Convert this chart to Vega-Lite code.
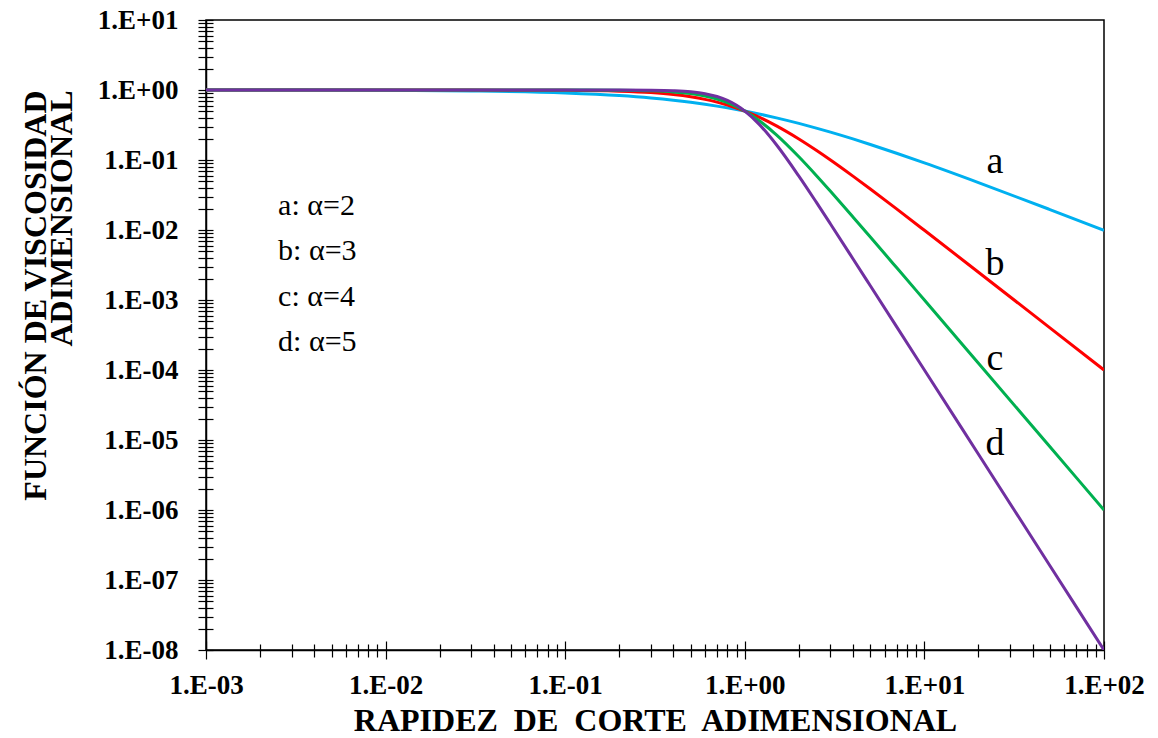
{
  "$schema": "https://vega.github.io/schema/vega-lite/v6.json",
  "width": 898,
  "height": 630,
  "autosize": "none",
  "padding": {"left": 206, "top": 20, "right": 54, "bottom": 88},
  "background": "white",
  "config": {
    "font": "Liberation Serif, serif",
    "view": {"stroke": "#000000", "strokeWidth": 1.5},
    "axis": {"grid": false, "tickColor": "#000000", "domainColor": "#000000", "labelColor": "#000000", "titleColor": "#000000", "tickWidth": 1.2, "domainWidth": 1.5}
  },
  "datasets": {
    "curves": [
      {"x": 0.001, "a": 0.999, "b": 1, "c": 1, "d": 1},
      {"x": 0.003, "a": 0.997, "b": 0.99999, "c": 1, "d": 1},
      {"x": 0.01, "a": 0.9901, "b": 0.9999, "c": 1, "d": 1},
      {"x": 0.03, "a": 0.9709, "b": 0.9991, "c": 0.99997, "d": 1},
      {"x": 0.1, "a": 0.9091, "b": 0.9901, "c": 0.999, "d": 0.9999},
      {"x": 0.2, "a": 0.8333, "b": 0.9615, "c": 0.9921, "d": 0.9984},
      {"x": 0.3, "a": 0.7692, "b": 0.9174, "c": 0.9737, "d": 0.992},
      {"x": 0.4, "a": 0.7143, "b": 0.8621, "c": 0.9398, "d": 0.975},
      {"x": 0.5, "a": 0.6667, "b": 0.8, "c": 0.8889, "d": 0.9412},
      {"x": 0.6, "a": 0.625, "b": 0.7353, "c": 0.8224, "d": 0.8853},
      {"x": 0.7, "a": 0.5882, "b": 0.6711, "c": 0.7446, "d": 0.8064},
      {"x": 0.8, "a": 0.5556, "b": 0.6098, "c": 0.6614, "d": 0.7094},
      {"x": 0.9, "a": 0.5263, "b": 0.5525, "c": 0.5784, "d": 0.6038},
      {"x": 1, "a": 0.5, "b": 0.5, "c": 0.5, "d": 0.5},
      {"x": 1.2, "a": 0.4545, "b": 0.4098, "c": 0.3666, "d": 0.3254},
      {"x": 1.5, "a": 0.4, "b": 0.3077, "c": 0.2286, "d": 0.1649},
      {"x": 2, "a": 0.3333, "b": 0.2, "c": 0.1111, "d": 0.05882},
      {"x": 2.5, "a": 0.2857, "b": 0.1379, "c": 0.06015, "d": 0.02496},
      {"x": 3, "a": 0.25, "b": 0.1, "c": 0.03571, "d": 0.0122},
      {"x": 4, "a": 0.2, "b": 0.05882, "c": 0.01538, "d": 0.003891},
      {"x": 5, "a": 0.1667, "b": 0.03846, "c": 0.007937, "d": 0.001597},
      {"x": 7, "a": 0.125, "b": 0.02, "c": 0.002907, "d": 0.0004163},
      {"x": 10, "a": 0.0909, "b": 0.009901, "c": 0.000999, "d": 0.0001},
      {"x": 20, "a": 0.0476, "b": 0.002494, "c": 0.000125, "d": 0.00000625},
      {"x": 50, "a": 0.0196, "b": 0.0003998, "c": 0.000008, "d": 0.00000016},
      {"x": 100, "a": 0.0099, "b": 0.0001, "c": 0.000001, "d": 0.00000001}
    ],
    "legendText": [
      {"x": 0.00252, "y": 0.01637, "t": "a: α=2"},
      {"x": 0.00252, "y": 0.003727, "t": "b: α=3"},
      {"x": 0.00252, "y": 0.000821, "t": "c: α=4"},
      {"x": 0.00252, "y": 0.0001868, "t": "d: α=5"}
    ],
    "curveLabels": [
      {"x": 24.7, "y": 0.06522, "t": "a"},
      {"x": 24.7, "y": 0.002276, "t": "b"},
      {"x": 24.7, "y": 0.0001, "t": "c"},
      {"x": 24.7, "y": 0.0000061, "t": "d"}
    ]
  },
  "resolve": {"axis": {"x": "independent", "y": "independent"}},
  "layer": [
    {
      "data": {"name": "curves"},
      "transform": [{"fold": ["a", "b", "c", "d"], "as": ["serie", "valor"]}],
      "mark": {"type": "line", "strokeWidth": 3, "interpolate": "monotone", "clip": true},
      "encoding": {
        "x": {
          "field": "x", "type": "quantitative",
          "scale": {"type": "log", "domain": [0.001, 100], "nice": false},
          "axis": {
            "orient": "bottom",
            "values": [0.001, 0.01, 0.1, 1, 10, 100],
            "labelExpr": "'1.E' + (datum.value >= 1 ? '+' : '-') + '0' + abs(round(log(datum.value)/LN10))",
            "labelFont": "Liberation Serif, serif", "labelFontWeight": "bold", "labelFontSize": 27,
            "labelPadding": 13, "tickSize": 9, "labelFlush": false, "labelOverlap": false,
            "title": "RAPIDEZ\u00a0 DE\u00a0 CORTE\u00a0 ADIMENSIONAL",
            "titleFont": "Liberation Serif, serif", "titleFontWeight": "bold", "titleFontSize": 32,
            "titleBaseline": "alphabetic", "titleY": 80
          }
        },
        "y": {
          "field": "valor", "type": "quantitative",
          "scale": {"type": "log", "domain": [0.00000001, 10], "nice": false},
          "axis": {
            "orient": "left",
            "values": [0.00000001, 0.0000001, 0.000001, 0.00001, 0.0001, 0.001, 0.01, 0.1, 1, 10],
            "labelExpr": "'1.E' + (datum.value >= 1 ? '+' : '-') + '0' + abs(round(log(datum.value)/LN10))",
            "labelFont": "Liberation Serif, serif", "labelFontWeight": "bold", "labelFontSize": 27,
            "labelPadding": 20, "tickSize": 8, "labelFlush": false, "labelOverlap": false,
            "title": ["FUNCIÓN DE VISCOSIDAD", "ADIMENSIONAL"],
            "titleFont": "Liberation Serif, serif", "titleFontWeight": "bold", "titleFontSize": 32,
            "titleLineHeight": 26, "titleAngle": -90, "titleAlign": "right", "titleBaseline": "alphabetic",
            "titleX": -161, "titleY": 70
          }
        },
        "color": {
          "field": "serie", "type": "nominal",
          "scale": {"domain": ["a", "b", "c", "d"], "range": ["#00B0F0", "#FF0000", "#00B050", "#7030A0"]},
          "legend": null
        }
      }
    },
    {
      "data": {"name": "legendText"},
      "mark": {"type": "text", "align": "left", "baseline": "alphabetic", "font": "Liberation Serif, serif", "fontSize": 30, "color": "#000000"},
      "encoding": {
        "x": {
          "field": "x", "type": "quantitative",
          "scale": {"type": "log", "domain": [0.001, 100], "nice": false},
          "axis": {
            "orient": "bottom", "title": null, "labels": false, "domain": false,
            "values": [0.001, 0.002, 0.003, 0.004, 0.005, 0.006, 0.007, 0.008, 0.009, 0.01, 0.02, 0.03, 0.04, 0.05, 0.06, 0.07, 0.08, 0.09, 0.1, 0.2, 0.3, 0.4, 0.5, 0.6, 0.7, 0.8, 0.9, 1, 2, 3, 4, 5, 6, 7, 8, 9, 10, 20, 30, 40, 50, 60, 70, 80, 90, 100],
            "tickSize": {"condition": {"test": "abs(log(datum.value)/LN10 - round(log(datum.value)/LN10)) < 0.001", "value": -9}, "value": -6}
          }
        },
        "y": {
          "field": "y", "type": "quantitative",
          "scale": {"type": "log", "domain": [0.00000001, 10], "nice": false},
          "axis": {
            "orient": "left", "title": null, "labels": false, "domain": false, "tickSize": -7,
            "values": [0.00000001, 0.00000002, 0.00000003, 0.00000004, 0.00000005, 0.00000006, 0.00000007, 0.00000008, 0.00000009, 0.0000001, 0.0000002, 0.0000003, 0.0000004, 0.0000005, 0.0000006, 0.0000007, 0.0000008, 0.0000009, 0.000001, 0.000002, 0.000003, 0.000004, 0.000005, 0.000006, 0.000007, 0.000008, 0.000009, 0.00001, 0.00002, 0.00003, 0.00004, 0.00005, 0.00006, 0.00007, 0.00008, 0.00009, 0.0001, 0.0002, 0.0003, 0.0004, 0.0005, 0.0006, 0.0007, 0.0008, 0.0009, 0.001, 0.002, 0.003, 0.004, 0.005, 0.006, 0.007, 0.008, 0.009, 0.01, 0.02, 0.03, 0.04, 0.05, 0.06, 0.07, 0.08, 0.09, 0.1, 0.2, 0.3, 0.4, 0.5, 0.6, 0.7, 0.8, 0.9, 1, 2, 3, 4, 5, 6, 7, 8, 9, 10]
          }
        },
        "text": {"field": "t", "type": "nominal"}
      }
    },
    {
      "data": {"name": "curveLabels"},
      "mark": {"type": "text", "align": "center", "baseline": "alphabetic", "font": "Liberation Serif, serif", "fontSize": 38, "color": "#000000"},
      "encoding": {
        "x": {
          "field": "x", "type": "quantitative",
          "scale": {"type": "log", "domain": [0.001, 100], "nice": false},
          "axis": {
            "orient": "bottom", "title": null, "labels": false, "domain": false, "tickSize": 7,
            "values": [0.002, 0.003, 0.004, 0.005, 0.006, 0.007, 0.008, 0.009, 0.02, 0.03, 0.04, 0.05, 0.06, 0.07, 0.08, 0.09, 0.2, 0.3, 0.4, 0.5, 0.6, 0.7, 0.8, 0.9, 2, 3, 4, 5, 6, 7, 8, 9, 20, 30, 40, 50, 60, 70, 80, 90]
          }
        },
        "y": {
          "field": "y", "type": "quantitative",
          "scale": {"type": "log", "domain": [0.00000001, 10], "nice": false},
          "axis": {
            "orient": "left", "title": null, "labels": false, "domain": false, "tickSize": 8,
            "values": [0.00000002, 0.00000003, 0.00000004, 0.00000005, 0.00000006, 0.00000007, 0.00000008, 0.00000009, 0.0000002, 0.0000003, 0.0000004, 0.0000005, 0.0000006, 0.0000007, 0.0000008, 0.0000009, 0.000002, 0.000003, 0.000004, 0.000005, 0.000006, 0.000007, 0.000008, 0.000009, 0.00002, 0.00003, 0.00004, 0.00005, 0.00006, 0.00007, 0.00008, 0.00009, 0.0002, 0.0003, 0.0004, 0.0005, 0.0006, 0.0007, 0.0008, 0.0009, 0.002, 0.003, 0.004, 0.005, 0.006, 0.007, 0.008, 0.009, 0.02, 0.03, 0.04, 0.05, 0.06, 0.07, 0.08, 0.09, 0.2, 0.3, 0.4, 0.5, 0.6, 0.7, 0.8, 0.9, 2, 3, 4, 5, 6, 7, 8, 9]
          }
        },
        "text": {"field": "t", "type": "nominal"}
      }
    }
  ]
}
